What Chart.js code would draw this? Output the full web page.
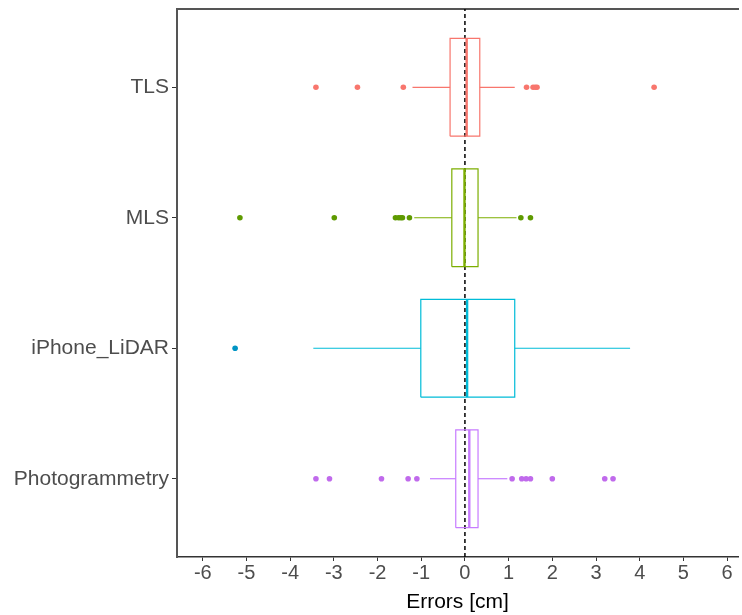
<!DOCTYPE html>
<html>
<head>
<meta charset="utf-8">
<script src="https://cdn.jsdelivr.net/npm/chart.js@4"></script>
<style>
  body { margin: 0; background: #fff; }
  #wrap { width: 742px; height: 615px; }
</style>
</head>
<body>
<div id="wrap"><canvas id="myChart"></canvas></div>
<script>
// Data (errors in cm)
const categories = ['TLS', 'MLS', 'iPhone_LiDAR', 'Photogrammetry']
const q1 = [-0.34, -0.30, -1.01, -0.21]
const median = [0.04, -0.01, 0.05, 0.10]
const q3 = [0.34, 0.30, 1.14, 0.30]
const whiskerLow = [-1.20, -1.16, -3.47, -0.80]
const whiskerHigh = [1.14, 1.18, 3.78, 0.97]
const outliers = [
  [-3.41, -2.46, -1.41, 1.41, 1.56, 1.61, 1.65, 4.33],
  [-5.15, -2.99, -1.59, -1.52, -1.47, -1.43, -1.27, 1.28, 1.50],
  [-5.26],
  [-3.41, -3.10, -1.91, -1.30, -1.10, 1.08, 1.30, 1.40, 1.50, 2.00, 3.20, 3.39]
]
const xTicks = [-6, -5, -4, -3, -2, -1, 0, 1, 2, 3, 4, 5, 6]

const boxColors = ['#F8766D', '#7CAE00', '#00BCD8', '#C77CFF']
const pointColors = ['#F8766D', '#5E9A00', '#0094C4', '#C06AEC']

;(() => {
  'use strict'

  const ctx = document.getElementById('myChart')
  const half = 0.375
  const xMin = -6.59
  const xMax = 6.25

  const datasets = []
  categories.forEach((cat, i) => {
    const y = categories.length - i
    const line = {
      type: 'scatter',
      showLine: true,
      pointRadius: 0,
      borderColor: boxColors[i],
      borderWidth: 1.2,
      fill: false
    }
    datasets.push({ ...line, label: cat + ' box', data: [
      { x: q1[i], y: y - half }, { x: q3[i], y: y - half },
      { x: q3[i], y: y + half }, { x: q1[i], y: y + half },
      { x: q1[i], y: y - half }
    ] })
    datasets.push({ ...line, label: cat + ' median', borderWidth: 2.4, data: [
      { x: median[i], y: y - half }, { x: median[i], y: y + half }
    ] })
    datasets.push({ ...line, label: cat + ' lower', data: [
      { x: whiskerLow[i], y: y }, { x: q1[i], y: y }
    ] })
    datasets.push({ ...line, label: cat + ' upper', data: [
      { x: q3[i], y: y }, { x: whiskerHigh[i], y: y }
    ] })
    datasets.push({
      type: 'scatter',
      label: cat + ' outliers',
      data: outliers[i].map(v => ({ x: v, y: y })),
      pointRadius: 2.8,
      pointBorderWidth: 0,
      backgroundColor: pointColors[i],
      borderColor: pointColors[i]
    })
  })

  // dashed reference line at zero
  datasets.push({
    type: 'scatter',
    label: 'zero',
    showLine: true,
    pointRadius: 0,
    borderColor: '#000',
    borderWidth: 1.5,
    borderDash: [4, 3],
    data: [{ x: 0, y: 0.4 }, { x: 0, y: 4.6 }]
  })

  const family = '"Liberation Sans", Arial, sans-serif'
  const noSidePad = s => { s.paddingLeft = 0; s.paddingRight = 0 }

  // eslint-disable-next-line no-unused-vars
  const myChart = new Chart(ctx, {
    type: 'scatter',
    data: { datasets },
    options: {
      responsive: true,
      maintainAspectRatio: false,
      animation: false,
      layout: { padding: { top: 9, left: 0, right: 0, bottom: 0 } },
      scales: {
        x: {
          type: 'linear',
          min: xMin,
          max: xMax,
          afterBuildTicks: s => { s.ticks = xTicks.map(v => ({ value: v })) },
          afterFit: s => { s.height = 58; noSidePad(s) },
          grid: { display: true, drawOnChartArea: false, drawTicks: true, tickLength: 4, tickColor: '#333' },
          border: { display: true, color: '#333', width: 1.5 },
          ticks: { color: '#4d4d4d', font: { family, size: 20 }, padding: 0, maxRotation: 0 },
          title: {
            display: true,
            text: 'Errors [cm]',
            color: '#000',
            font: { family, size: 21 },
            padding: 0
          }
        },
        x2: {
          type: 'linear',
          position: 'top',
          min: xMin,
          max: xMax,
          afterFit: s => { s.height = 0; noSidePad(s) },
          grid: { display: false },
          ticks: { display: false },
          border: { display: true, color: '#555', width: 2 }
        },
        y: {
          type: 'linear',
          min: 0.4,
          max: 4.6,
          afterBuildTicks: s => { s.ticks = categories.map((c, i) => ({ value: categories.length - i })) },
          afterFit: s => { s.width = 177; s.paddingTop = 0; s.paddingBottom = 0 },
          grid: { display: true, drawOnChartArea: false, drawTicks: true, tickLength: 5, tickColor: '#333' },
          border: { display: true, color: '#555', width: 2 },
          ticks: {
            color: '#4d4d4d',
            font: { family, size: 21 },
            padding: 3,
            callback: v => categories[categories.length - v]
          }
        }
      },
      plugins: {
        legend: { display: false },
        tooltip: { enabled: false }
      }
    }
  })
})()
</script>
</body>
</html>
